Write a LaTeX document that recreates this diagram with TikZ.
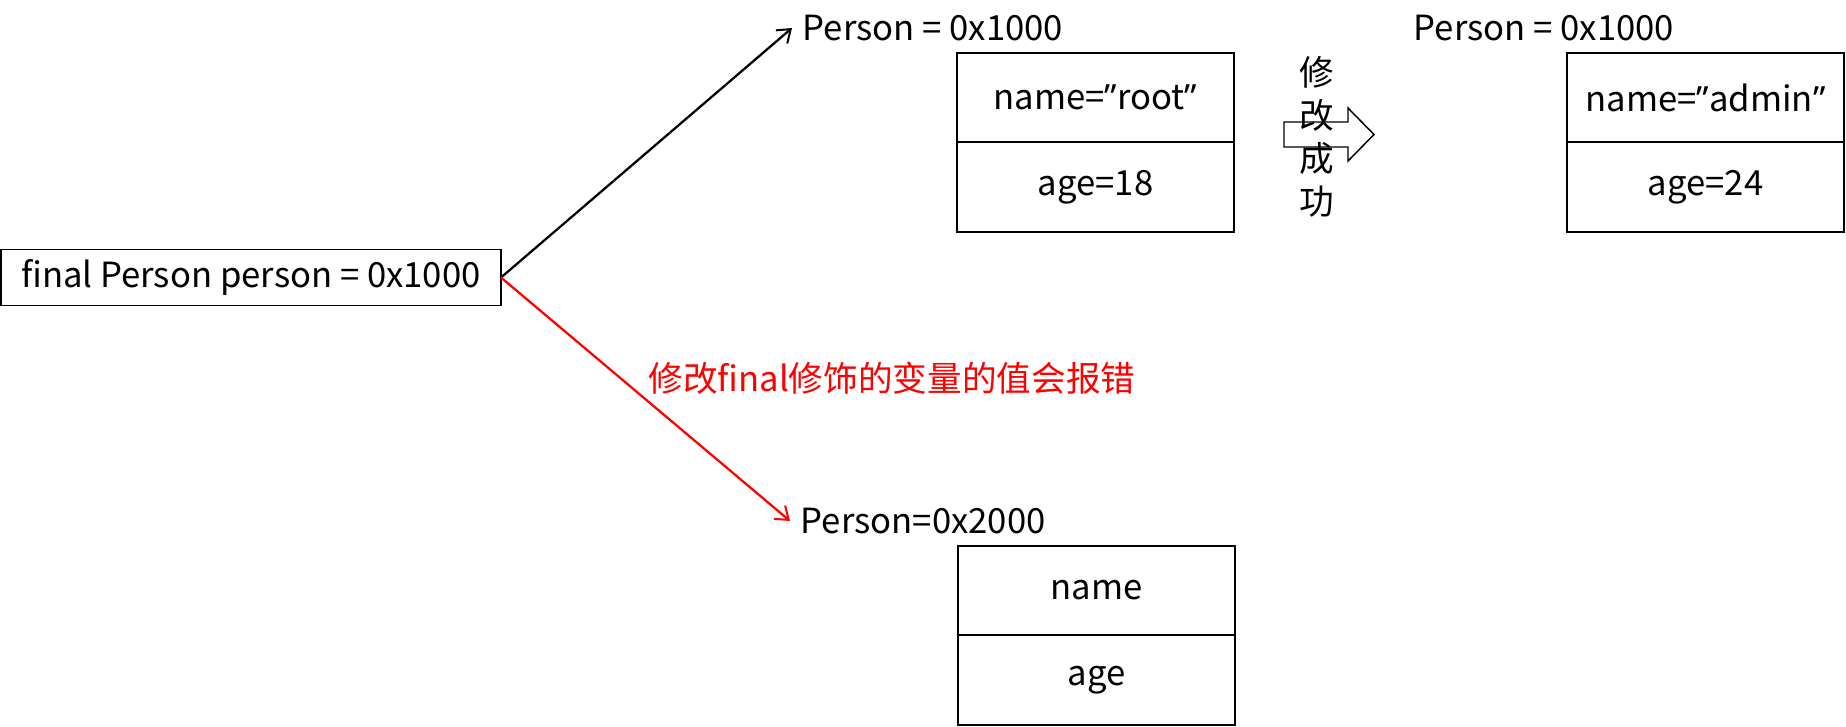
\documentclass[tikz,border=0pt]{standalone}
\usepackage{fontspec}
\setmainfont{Noto Sans CJK SC}
\newfontfamily\latinfont{Noto Sans}
\newcommand\cq{{\latinfont ”}}
\usetikzlibrary{arrows.meta,positioning}

\definecolor{errred}{RGB}{255,0,0}
\tikzset{
  field/.style={draw, line width=1.4pt, outer sep=0pt, minimum width=207.75pt, minimum height=67.1pt, inner sep=0pt, font=\fontsize{26}{30}\selectfont},
  addr/.style={anchor=west, inner sep=8pt, font=\fontsize{26}{30}\selectfont},
  ptr/.style={line width=1.7pt, -{Straight Barb[length=9pt,width=13pt,line width=1.5pt]}},
}

\begin{document}
\begin{tikzpicture}[x=0.75pt,y=0.75pt,yscale=-1,xscale=1]
	\useasboundingbox (0,0) rectangle (1846,726);
	% variable
	\node [field, minimum width=375pt, minimum height=42pt] (var) at (251,277.5) {final Person person = 0x1000};
	% object before
	\node [addr] (addr1) at (792,28) {Person = 0x1000};
	\node [field] (name1) at (1095.5,97.5) {name=\cq root\cq};
	\node [field, below=0pt of name1] (age1) {age=18};
	% object after
	\node [addr] (addr2) at (1403,28) {Person = 0x1000};
	\node [field] (name2) at (1705.5,97.5) {name=\cq admin\cq};
	\node [field, below=0pt of name2] (age2) {age=24};
	% new object
	\node [addr] (addr3) at (790,521) {Person=0x2000};
	\node [field] (name3) at (1096.5,590.5) {name};
	\node [field, below=0pt of name3] (age3) {age};
	% hollow arrow
	\draw [line width=1.1pt] (1284,122) -- (1348,122) -- (1348,108) -- (1374,134.5) -- (1348,161) -- (1348,147) -- (1284,147) -- cycle ;
	\node [align=center, inner sep=0pt, font=\fontsize{26}{32.4}\selectfont] (ok) at (1317,137) {修\\改\\成\\功};
	% pointers
	\draw [ptr] (var.east) -- (addr1.west) ;
	\draw [ptr, errred] (var.east) -- (addr3.west) ;
	\node [text=errred, font=\fontsize{26}{30}\selectfont] (err) at (892,378) {修改final修饰的变量的值会报错};
\end{tikzpicture}
\end{document}
